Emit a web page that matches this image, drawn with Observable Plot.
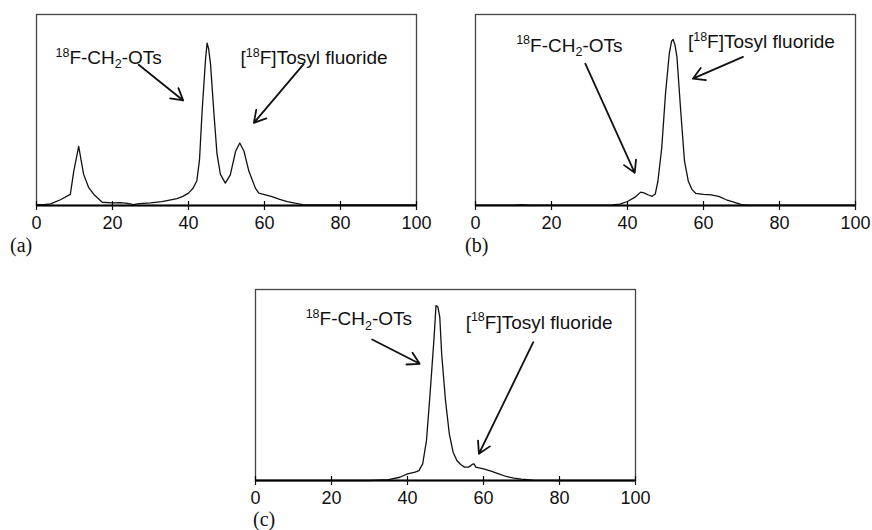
<!DOCTYPE html>
<html><head><meta charset="utf-8">
<script src="https://cdn.jsdelivr.net/npm/d3@7"></script>
<script src="https://cdn.jsdelivr.net/npm/@observablehq/plot@0.6"></script>
<style>
body{margin:0;background:#fff;}
#wrap{position:relative;width:872px;height:530px;background:#fff;overflow:hidden;}
.panel{position:absolute;}
.panel svg{background:transparent !important;overflow:visible;}
.cap{position:absolute;font-family:"Liberation Serif","Times New Roman",serif;font-size:20px;line-height:20px;color:#111;}
</style></head><body><div id="wrap"></div>
<script>
// ---- data ----
const timeTicks = [0, 20, 40, 60, 80, 100];
const noteText = ["^{18}F-CH_{2}-OTs", "[^{18}F]Tosyl fluoride"];
const panelLabels = ["(a)", "(b)", "(c)"];

// panel (a)
const aTime = [0,2,3.7,6.3,8.9,9.8,11.1,12.4,13.7,15.1,17.3,20,22,24,25.5,27,30,33,35,37,38.5,40,41.2,42.2,42.9,43.6,44.5,44.9,45.3,45.8,46.7,47.5,48.4,49.7,51,52.4,53.5,54.6,55.9,57.6,58.5,60,62,64,66,68,70,72,75,80,90,100];
const aSignal = [0.4,0.5,0.8,3,5.8,17.9,31,16.3,9.5,5.8,1.7,1.4,1.5,1.1,0.4,1.0,1.4,2.0,2.8,3.6,4.8,6.5,9,13,24,50,77,85,82,74,48,27,16.3,11.7,16,28.4,32.7,28.4,17.9,9.1,6.5,5.7,4.6,3.2,2,1.2,0.5,0.3,0.3,0.3,0.3,0.3];
const aNoteX = [5.0, 53.7];
const aNoteY = [74, 74];
const aArrowX1 = [26.9, 70.3], aArrowY1 = [73.7, 74];
const aArrowX2 = [38.6, 57.2], aArrowY2 = [55, 43.3];

// panel (b)
const bTime = [0,10,12,14,20,30,36,38,40,42,43.5,44.5,45.5,46.5,47.3,48,49,50,51,51.6,52,52.5,53,54,55,56,57,58,60,62,63,64,66,68,70,72,80,90,100];
const bSignal = [0.2,0.2,0.5,0.2,0.2,0.2,0.3,0.7,2.1,4.4,7,6.5,5.5,4.8,6,12.7,30,58.5,79.6,86,87,84,78,49.6,23.2,12.7,8.3,6.3,5.8,5.6,5.2,4.8,3,1.8,0.4,0.2,0.2,0.2,0.2];
const bNoteX = [10.7, 55.9];
const bNoteY = [80.5, 82.2];
const bArrowX1 = [28.9, 70.4], bArrowY1 = [74.3, 77.8];
const bArrowX2 = [41.9, 57.2], bArrowY2 = [17.1, 66.4];

// panel (c)
const cTime = [0,30,35,38,40,42,43,44,45,46,47,47.5,48,48.5,49,50,51,52,53,54,55,56,56.5,57,57.5,58,60,62,64,66,68,70,73,80,90,100];
const cSignal = [0,0,0.5,1.7,3.5,4.4,5.2,8.7,21,47,75,91.6,90.8,85.5,66,41.9,24.4,14.8,10.5,8.4,7,7,7.5,8.4,8.7,7,6.1,4.9,3.5,2.1,1.2,0.7,0.2,0,0,0];
const cNoteX = [13.2, 55.3];
const cNoteY = [81.2, 79.4];
const cArrowX1 = [30.7, 73.1], cArrowY1 = [73.8, 72.4];
const cArrowX2 = [43.2, 58.8], cArrowY2 = [61.1, 14];

// ---- drawing ----
const FONT = "'Liberation Sans', Arial, sans-serif";
const NOTE_SIZE = 19;

function richText(el, raw, size) {
  el.textContent = "";
  const parts = raw.split(/(\^\{[^}]*\}|_\{[^}]*\})/).filter(s => s);
  let shift = 0;
  for (const p of parts) {
    const ts = document.createElementNS("http://www.w3.org/2000/svg", "tspan");
    let target = 0, txt = p, fs = null;
    if (p.startsWith("^{")) { target = -0.4 * size; txt = p.slice(2, -1); fs = 0.66 * size; }
    else if (p.startsWith("_{")) { target = 0.22 * size; txt = p.slice(2, -1); fs = 0.66 * size; }
    ts.setAttribute("dy", (target - shift).toFixed(2));
    shift = target;
    if (fs) ts.setAttribute("font-size", fs.toFixed(1));
    ts.textContent = txt;
    el.appendChild(ts);
  }
}

function panel(time, signal, nx, ny, ax1, ay1, ax2, ay2, width, marginRight) {
  const trace = time.map((t, i) => ({t, s: signal[i]}));
  const notes = noteText.map((txt, i) => ({txt, x: nx[i], y: ny[i]}));
  const arrows = ax1.map((_, i) => ({x1: ax1[i], y1: ay1[i], x2: ax2[i], y2: ay2[i]}));
  const svg = Plot.plot({
    width, height: 245,
    marginLeft: 36, marginRight, marginTop: 14, marginBottom: 40,
    style: {fontFamily: FONT, color: "#111", background: "transparent", overflow: "visible"},
    x: {domain: [0, 100]},
    y: {domain: [0, 100], axis: null},
    marks: [
      Plot.frame({stroke: "#444", strokeWidth: 1.3}),
      Plot.line(trace, {x: "t", y: "s", stroke: "#111", strokeWidth: 1.3}),
      Plot.ruleY([0], {stroke: "#000", strokeWidth: 2}),
      Plot.tickX(timeTicks, {x: d => d, insetTop: 187, stroke: "#000", strokeWidth: 1.2}),
      Plot.axisX(timeTicks, {tickSize: 5, tickPadding: 6, fontSize: 18, label: null, tickFormat: d => String(d), strokeWidth: 1.2}),
      Plot.arrow(arrows, {x1: "x1", y1: "y1", x2: "x2", y2: "y2", stroke: "#111", strokeWidth: 1.8, headLength: 11}),
      Plot.text(notes, {x: "x", y: "y", text: "txt", textAnchor: "start", lineAnchor: "bottom", fontSize: NOTE_SIZE, fill: "#111"})
    ]
  });
  svg.querySelectorAll("text").forEach(t => {
    const raw = t.textContent;
    if (noteText.includes(raw)) richText(t, raw, NOTE_SIZE);
  });
  return svg;
}

const wrap = document.getElementById("wrap");
function place(node, left, top) {
  const d = document.createElement("div");
  d.className = "panel";
  d.style.left = left + "px"; d.style.top = top + "px";
  d.appendChild(node);
  wrap.appendChild(d);
}
place(panel(aTime, aSignal, aNoteX, aNoteY, aArrowX1, aArrowY1, aArrowX2, aArrowY2, 440, 24), 0, 0);
place(panel(bTime, bSignal, bNoteX, bNoteY, bArrowX1, bArrowY1, bArrowX2, bArrowY2, 433, 17), 439, 0);
place(panel(cTime, cSignal, cNoteX, cNoteY, cArrowX1, cArrowY1, cArrowX2, cArrowY2, 440, 24), 219, 275);

const capPos = [[10, 235], [465, 235], [253, 509]];
panelLabels.forEach((lab, i) => {
  const d = document.createElement("div");
  d.className = "cap";
  d.textContent = lab;
  d.style.left = capPos[i][0] + "px"; d.style.top = capPos[i][1] + "px";
  wrap.appendChild(d);
});
</script></body></html>
